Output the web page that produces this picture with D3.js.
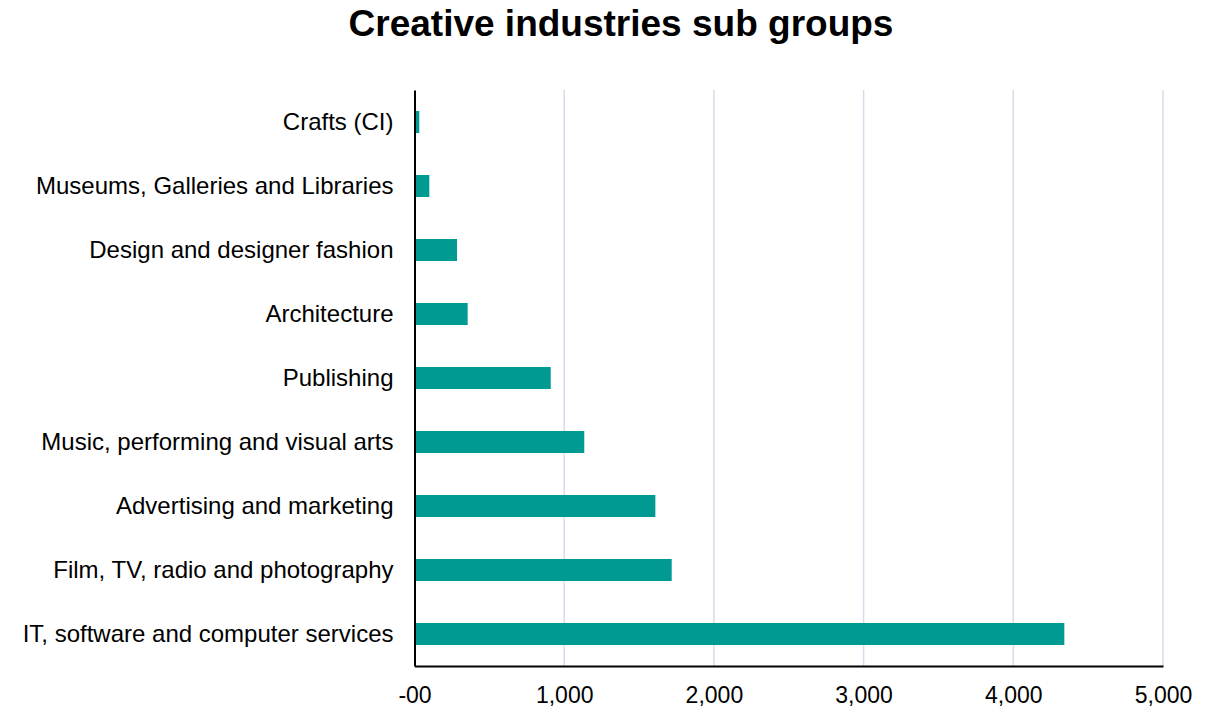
<!DOCTYPE html>
<html><head><meta charset="utf-8">
<script src="https://cdn.jsdelivr.net/npm/d3@7"></script>
<style>body{margin:0;background:#fff;}svg{display:block;font-family:"Liberation Sans",Arial,sans-serif;}</style>
</head><body>
<svg id="c" width="1206" height="708"></svg>
<script>
const categories = ["Crafts (CI)","Museums, Galleries and Libraries","Design and designer fashion","Architecture","Publishing","Music, performing and visual arts","Advertising and marketing","Film, TV, radio and photography","IT, software and computer services"];
const values = [32, 99, 284, 355, 910, 1134, 1609, 1718, 4341];
const tickValues = [0, 1000, 2000, 3000, 4000, 5000];
const tickLabels = ["-00", "1,000", "2,000", "3,000", "4,000", "5,000"];
const title = "Creative industries sub groups";

const svg = d3.select("#c");
const m = {left: 414.5, right: 1163, top: 90, bottom: 666};
const x = d3.scaleLinear().domain([0, 5000]).range([m.left, m.right]);
const y = d3.scaleBand().domain(categories).range([m.top, m.bottom]).paddingInner(0.656).paddingOuter(0.328);

svg.append("text").attr("x", 621).attr("y", 36).attr("text-anchor", "middle")
  .attr("font-size", 37).attr("font-weight", "bold").attr("fill", "#000").text(title);

// grid
svg.append("g").selectAll("line").data(tickValues.slice(1)).join("line")
  .attr("x1", d => x(d)).attr("x2", d => x(d)).attr("y1", m.top).attr("y2", m.bottom)
  .attr("stroke", "#D6DCEC").attr("stroke-width", 1.5);

// bars
svg.append("g").selectAll("rect").data(values).join("rect")
  .attr("x", x(0)).attr("y", (d, i) => y(categories[i]))
  .attr("width", d => x(d) - x(0)).attr("height", y.bandwidth())
  .attr("fill", "#009A93");

// x axis
const xa = svg.append("g").attr("transform", `translate(0,${m.bottom})`)
  .call(d3.axisBottom(x).tickValues(tickValues).tickSize(0).tickPadding(21).tickFormat((d, i) => tickLabels[i]));
xa.select(".domain").attr("stroke", "#000").attr("stroke-width", 2);
xa.selectAll("text").attr("font-size", 23).attr("fill", "#000").attr("font-family", "Liberation Sans, Arial, sans-serif");

// y axis
const ya = svg.append("g").attr("transform", `translate(${m.left},0)`)
  .call(d3.axisLeft(y).tickSize(0).tickPadding(21));
ya.select(".domain").attr("stroke", "#000").attr("stroke-width", 2);
ya.selectAll("text").attr("font-size", 24).attr("fill", "#000").attr("font-family", "Liberation Sans, Arial, sans-serif");
</script>
</body></html>
